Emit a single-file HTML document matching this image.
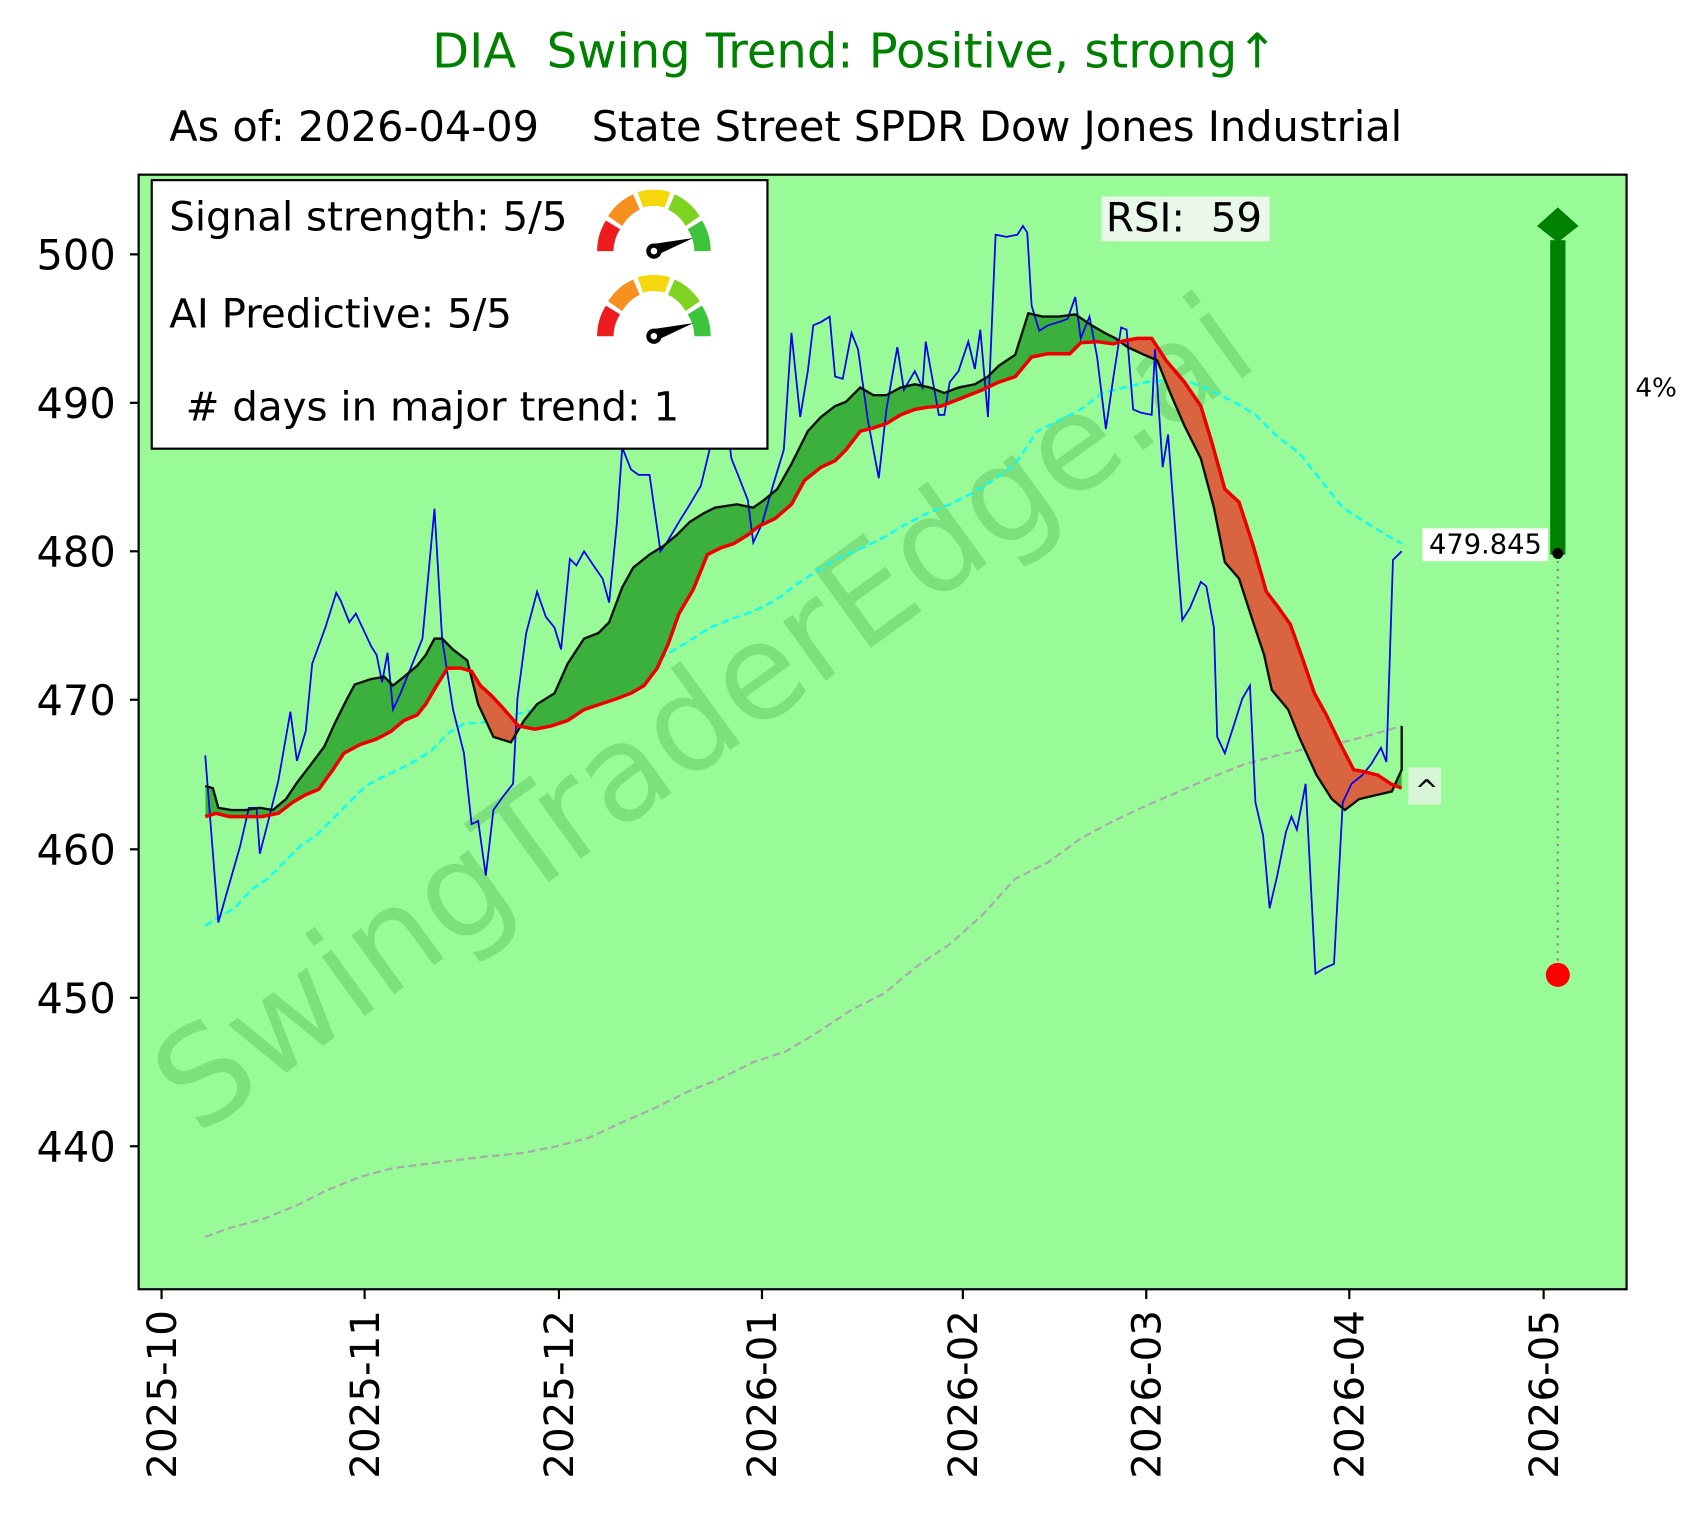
<!DOCTYPE html>
<html><head><meta charset="utf-8"><style>
html,body{margin:0;padding:0;background:#fff}
svg{display:block}
text{font-family:"DejaVu Sans","Liberation Sans",sans-serif}
</style></head><body>
<svg width="1703" height="1516" viewBox="0 0 1560 1388.7" xmlns="http://www.w3.org/2000/svg">
<defs>
<clipPath id="plot"><rect x="127" y="160" width="1363" height="1021"/></clipPath>
<clipPath id="above"><polygon points="188,748 198,745 210,748 225,748 240,748 255,745 268,735 280,728 292,723 305,705 315,690 330,682 345,677 358,670 370,660 382,655 390,645 400,628 410,612 422,612 432,615 440,628 450,637 462,650 475,665 490,668 505,665 520,660 535,650 550,645 565,640 578,635 590,628 602,612 612,590 622,562 635,540 648,508 660,502 672,498 685,490 695,482 710,475 725,462 737,440 752,428 765,422 775,412 788,395 800,392 812,388 825,380 838,375 850,373 862,372 880,365 900,357 915,350 930,345 945,327 960,324 980,324 990,314 1005,313 1020,315 1030,312 1042,310 1055,310 1068,330 1085,350 1100,372 1110,405 1122,448 1135,460 1148,500 1160,542 1170,555 1182,572 1192,600 1204,635 1215,655 1228,682 1240,705 1250,707 1262,710 1274,718 1284,722 1300,722 1300,0 188,0"/></clipPath>
<clipPath id="below"><polygon points="188,748 198,745 210,748 225,748 240,748 255,745 268,735 280,728 292,723 305,705 315,690 330,682 345,677 358,670 370,660 382,655 390,645 400,628 410,612 422,612 432,615 440,628 450,637 462,650 475,665 490,668 505,665 520,660 535,650 550,645 565,640 578,635 590,628 602,612 612,590 622,562 635,540 648,508 660,502 672,498 685,490 695,482 710,475 725,462 737,440 752,428 765,422 775,412 788,395 800,392 812,388 825,380 838,375 850,373 862,372 880,365 900,357 915,350 930,345 945,327 960,324 980,324 990,314 1005,313 1020,315 1030,312 1042,310 1055,310 1068,330 1085,350 1100,372 1110,405 1122,448 1135,460 1148,500 1160,542 1170,555 1182,572 1192,600 1204,635 1215,655 1228,682 1240,705 1250,707 1262,710 1274,718 1284,722 1300,722 1300,1300 188,1300"/></clipPath>
</defs>
<text x="783" y="62" font-size="44" fill="#008000" text-anchor="middle" xml:space="preserve">DIA  Swing Trend: Positive, strong↑</text>
<text x="155" y="129" font-size="38" fill="#000" xml:space="preserve">As of: 2026-04-09    State Street SPDR Dow Jones Industrial</text>
<rect x="127" y="160" width="1363" height="1021" fill="#98FB98"/>
<g clip-path="url(#plot)">
<text x="645" y="695" font-size="122" fill="#3aa53a" fill-opacity="0.3" text-anchor="middle" transform="rotate(-36 645 655)">SwingTraderEdge.ai</text>
<polyline fill="none" stroke="#aaaaaa" stroke-width="2" stroke-dasharray="7,4" points="188,1133 210,1125 240,1117 270,1105 300,1090 330,1078 360,1070 400,1065 440,1060 480,1056 510,1050 540,1042 570,1028 600,1015 630,1000 660,988 690,973 720,963 750,945 780,925 810,910 840,885 870,865 900,838 930,805 960,790 990,768 1020,752 1050,738 1080,725 1110,712 1140,700 1170,692 1200,685 1230,680 1260,672 1284,665"/>
<polyline fill="none" stroke="#00ffff" stroke-width="2" stroke-dasharray="7,4" points="188,848 200,840 215,832 230,815 245,805 260,790 275,775 290,765 305,750 320,735 335,720 350,712 365,705 380,697 395,688 410,672 425,663 440,662 455,660 470,655 490,650 510,648 530,642 550,632 570,625 590,612 610,600 630,588 650,575 670,567 690,560 710,550 730,535 750,522 770,510 790,502 810,492 830,480 850,470 870,462 890,452 910,440 930,425 950,395 970,385 990,375 1010,360 1030,355 1050,350 1070,348 1090,350 1110,358 1130,368 1150,380 1170,400 1190,415 1210,440 1230,465 1250,478 1270,490 1284,498"/>
<polygon fill="#3cb03c" clip-path="url(#above)" points="188,720 195,722 200,740 212,742 225,742 238,740 250,742 262,732 272,717 285,700 297,684 307,662 318,640 325,627 340,622 352,620 360,628 370,620 382,610 390,600 398,585 405,585 415,595 428,605 438,645 452,675 468,680 480,660 492,645 508,635 520,608 535,585 548,580 558,570 570,538 580,520 595,508 608,500 620,490 632,478 645,470 655,465 675,462 690,465 700,458 712,448 725,425 740,395 752,382 765,372 775,368 788,355 800,362 812,362 825,355 838,352 852,355 865,360 878,355 893,352 905,345 915,335 930,325 942,287 955,290 970,290 985,288 1000,298 1012,305 1022,310 1033,318 1048,325 1060,330 1072,360 1085,390 1100,420 1112,465 1122,515 1135,530 1148,570 1158,600 1165,632 1180,650 1190,675 1206,710 1220,732 1232,742 1245,732 1262,728 1275,725 1284,705 1284,722 1274,718 1262,710 1250,707 1240,705 1228,682 1215,655 1204,635 1192,600 1182,572 1170,555 1160,542 1148,500 1135,460 1122,448 1110,405 1100,372 1085,350 1068,330 1055,310 1042,310 1030,312 1020,315 1005,313 990,314 980,324 960,324 945,327 930,345 915,350 900,357 880,365 862,372 850,373 838,375 825,380 812,388 800,392 788,395 775,412 765,422 752,428 737,440 725,462 710,475 695,482 685,490 672,498 660,502 648,508 635,540 622,562 612,590 602,612 590,628 578,635 565,640 550,645 535,650 520,660 505,665 490,668 475,665 462,650 450,637 440,628 432,615 422,612 410,612 400,628 390,645 382,655 370,660 358,670 345,677 330,682 315,690 305,705 292,723 280,728 268,735 255,745 240,748 225,748 210,748 198,745 188,748"/>
<polygon fill="#d8653f" clip-path="url(#below)" points="188,720 195,722 200,740 212,742 225,742 238,740 250,742 262,732 272,717 285,700 297,684 307,662 318,640 325,627 340,622 352,620 360,628 370,620 382,610 390,600 398,585 405,585 415,595 428,605 438,645 452,675 468,680 480,660 492,645 508,635 520,608 535,585 548,580 558,570 570,538 580,520 595,508 608,500 620,490 632,478 645,470 655,465 675,462 690,465 700,458 712,448 725,425 740,395 752,382 765,372 775,368 788,355 800,362 812,362 825,355 838,352 852,355 865,360 878,355 893,352 905,345 915,335 930,325 942,287 955,290 970,290 985,288 1000,298 1012,305 1022,310 1033,318 1048,325 1060,330 1072,360 1085,390 1100,420 1112,465 1122,515 1135,530 1148,570 1158,600 1165,632 1180,650 1190,675 1206,710 1220,732 1232,742 1245,732 1262,728 1275,725 1284,705 1284,722 1274,718 1262,710 1250,707 1240,705 1228,682 1215,655 1204,635 1192,600 1182,572 1170,555 1160,542 1148,500 1135,460 1122,448 1110,405 1100,372 1085,350 1068,330 1055,310 1042,310 1030,312 1020,315 1005,313 990,314 980,324 960,324 945,327 930,345 915,350 900,357 880,365 862,372 850,373 838,375 825,380 812,388 800,392 788,395 775,412 765,422 752,428 737,440 725,462 710,475 695,482 685,490 672,498 660,502 648,508 635,540 622,562 612,590 602,612 590,628 578,635 565,640 550,645 535,650 520,660 505,665 490,668 475,665 462,650 450,637 440,628 432,615 422,612 410,612 400,628 390,645 382,655 370,660 358,670 345,677 330,682 315,690 305,705 292,723 280,728 268,735 255,745 240,748 225,748 210,748 198,745 188,748"/>
<polyline fill="none" stroke="#0000ee" stroke-width="1.6" points="188,692 200,845 210,810 220,775 228,740 235,740 238,782 245,755 255,715 266,652 272,697 280,670 286,608 298,575 308,543 312,550 320,570 326,562 340,592 345,600 350,625 355,598 360,650 367,635 375,615 387,585 398,466 405,585 415,650 425,690 432,755 438,752 445,802 452,742 462,728 470,718 474,640 482,580 492,542 500,565 508,575 514,595 522,512 528,518 535,505 545,520 552,530 558,552 565,480 570,410 578,430 585,435 595,435 605,505 612,495 622,478 632,462 642,445 650,412 660,382 665,382 670,420 678,440 685,458 690,497 698,480 708,445 718,412 725,305 733,382 740,340 745,298 752,295 760,290 765,345 772,347 780,305 786,320 795,385 805,438 812,375 822,318 828,357 838,340 845,355 848,313 855,352 860,380 865,380 870,350 878,340 887,313 893,338 898,302 905,382 912,215 922,217 932,215 937,207 941,213 945,280 952,303 960,298 970,295 978,292 985,272 990,310 998,290 1005,327 1013,393 1020,345 1027,300 1032,302 1038,375 1045,378 1055,380 1058,320 1065,428 1070,398 1078,505 1083,568 1090,557 1100,533 1105,537 1112,575 1115,675 1122,690 1130,665 1138,640 1145,628 1150,735 1157,765 1163,832 1170,802 1178,762 1183,748 1188,760 1196,718 1205,892 1213,887 1222,883 1230,735 1238,718 1248,710 1256,700 1265,685 1270,698 1276,513 1284,505"/>
<polyline fill="none" stroke="#111" stroke-width="2.2" points="188,720 195,722 200,740 212,742 225,742 238,740 250,742 262,732 272,717 285,700 297,684 307,662 318,640 325,627 340,622 352,620 360,628 370,620 382,610 390,600 398,585 405,585 415,595 428,605 438,645 452,675 468,680 480,660 492,645 508,635 520,608 535,585 548,580 558,570 570,538 580,520 595,508 608,500 620,490 632,478 645,470 655,465 675,462 690,465 700,458 712,448 725,425 740,395 752,382 765,372 775,368 788,355 800,362 812,362 825,355 838,352 852,355 865,360 878,355 893,352 905,345 915,335 930,325 942,287 955,290 970,290 985,288 1000,298 1012,305 1022,310 1033,318 1048,325 1060,330 1072,360 1085,390 1100,420 1112,465 1122,515 1135,530 1148,570 1158,600 1165,632 1180,650 1190,675 1206,710 1220,732 1232,742 1245,732 1262,728 1275,725 1284,705 1284,665"/>
<polyline fill="none" stroke="#ee0000" stroke-width="3.2" points="188,748 198,745 210,748 225,748 240,748 255,745 268,735 280,728 292,723 305,705 315,690 330,682 345,677 358,670 370,660 382,655 390,645 400,628 410,612 422,612 432,615 440,628 450,637 462,650 475,665 490,668 505,665 520,660 535,650 550,645 565,640 578,635 590,628 602,612 612,590 622,562 635,540 648,508 660,502 672,498 685,490 695,482 710,475 725,462 737,440 752,428 765,422 775,412 788,395 800,392 812,388 825,380 838,375 850,373 862,372 880,365 900,357 915,350 930,345 945,327 960,324 980,324 990,314 1005,313 1020,315 1030,312 1042,310 1055,310 1068,330 1085,350 1100,372 1110,405 1122,448 1135,460 1148,500 1160,542 1170,555 1182,572 1192,600 1204,635 1215,655 1228,682 1240,705 1250,707 1262,710 1274,718 1284,722"/>
<line x1="1427" y1="507" x2="1427" y2="893" stroke="#888" stroke-width="2" stroke-dasharray="2,5"/>
<rect x="1420" y="220" width="14" height="288" fill="#008000"/>
<polygon points="1427,190 1446,207 1427,222 1408,207" fill="#008000"/>
<circle cx="1427" cy="507" r="5" fill="#000"/>
<circle cx="1427" cy="893" r="11" fill="#ff0000"/>
<rect x="1303" y="484" width="115" height="30" fill="#fff"/>
<text x="1309" y="507" font-size="25" fill="#000">479.845</text>
<rect x="1290" y="703" width="30" height="34" fill="#d8f5d8"/>
<text x="1296" y="733" font-size="26" fill="#000">^</text>
<rect x="1009" y="180" width="154" height="41" fill="#eaf8ea"/>
<text x="1013" y="212" font-size="37" fill="#000" xml:space="preserve">RSI:  59</text>
</g>
<rect x="127" y="160" width="1363" height="1021" fill="none" stroke="#000" stroke-width="2"/>
<text x="1498" y="363" font-size="24" fill="#000">4%</text>
<g font-size="38" fill="#000" text-anchor="end">
<line x1="119" y1="233" x2="127" y2="233" stroke="#000" stroke-width="2"/><text x="106" y="247">500</text>
<line x1="119" y1="369" x2="127" y2="369" stroke="#000" stroke-width="2"/><text x="106" y="383">490</text>
<line x1="119" y1="505" x2="127" y2="505" stroke="#000" stroke-width="2"/><text x="106" y="519">480</text>
<line x1="119" y1="641" x2="127" y2="641" stroke="#000" stroke-width="2"/><text x="106" y="655">470</text>
<line x1="119" y1="778" x2="127" y2="778" stroke="#000" stroke-width="2"/><text x="106" y="792">460</text>
<line x1="119" y1="914" x2="127" y2="914" stroke="#000" stroke-width="2"/><text x="106" y="928">450</text>
<line x1="119" y1="1050" x2="127" y2="1050" stroke="#000" stroke-width="2"/><text x="106" y="1064">440</text>
</g>
<g stroke="#000" stroke-width="2">
<line x1="148" y1="1181" x2="148" y2="1190"/><line x1="334" y1="1181" x2="334" y2="1190"/><line x1="512" y1="1181" x2="512" y2="1190"/><line x1="698" y1="1181" x2="698" y2="1190"/><line x1="882" y1="1181" x2="882" y2="1190"/><line x1="1050" y1="1181" x2="1050" y2="1190"/><line x1="1236" y1="1181" x2="1236" y2="1190"/><line x1="1414" y1="1181" x2="1414" y2="1190"/>
</g>
<g font-size="37" fill="#000" text-anchor="end">
<text transform="translate(161,1200) rotate(-90)">2025-10</text>
<text transform="translate(347,1200) rotate(-90)">2025-11</text>
<text transform="translate(525,1200) rotate(-90)">2025-12</text>
<text transform="translate(711,1200) rotate(-90)">2026-01</text>
<text transform="translate(895,1200) rotate(-90)">2026-02</text>
<text transform="translate(1063,1200) rotate(-90)">2026-03</text>
<text transform="translate(1249,1200) rotate(-90)">2026-04</text>
<text transform="translate(1427,1200) rotate(-90)">2026-05</text>
</g>
<rect x="139" y="165" width="564" height="246" fill="#fff" stroke="#000" stroke-width="2"/>
<g font-size="37" fill="#000">
<text x="155" y="211">Signal strength: 5/5</text>
<text x="155" y="300">AI Predictive: 5/5</text>
<text x="170" y="385"># days in major trend: 1</text>
</g>
<g id="g1" transform="translate(599,226)">
<path d="M-52,4 A52,52 0 0 1 -44,-24 L-31,-16 A37,37 0 0 0 -37,4 Z" fill="#ee1c1c"/>
<path d="M-42,-28 A52,52 0 0 1 -19,-48 L-13,-34 A37,37 0 0 0 -29,-19 Z" fill="#f7901e"/>
<path d="M-15,-50 A52,52 0 0 1 15,-50 L10,-36 A37,37 0 0 0 -10,-36 Z" fill="#f5d80c"/>
<path d="M19,-48 A52,52 0 0 1 42,-28 L29,-19 A37,37 0 0 0 13,-34 Z" fill="#7ed321"/>
<path d="M44,-24 A52,52 0 0 1 52,4 L37,4 A37,37 0 0 0 31,-16 Z" fill="#3cc43c"/>
<polygon points="-4,-2 36,-8 2,8" fill="#000"/>
<circle cx="0" cy="4" r="7" fill="#000"/><circle cx="0" cy="4" r="3" fill="#fff"/>
</g>
<use href="#g1" transform="translate(0,78)"/>
</svg>
</body></html>
